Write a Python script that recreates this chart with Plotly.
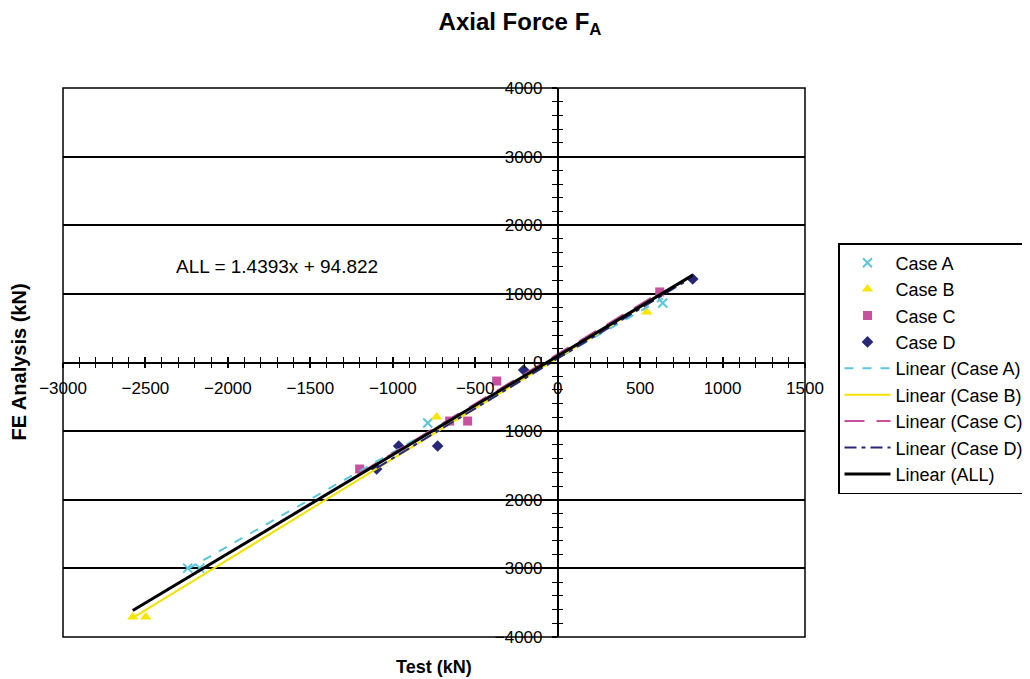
import numpy as np
import plotly.graph_objects as go

# ---- data (kN) ----
case_a_x = [-2244, -2171, -788, 637]
case_a_y = [-2996, -2996, -882, 867]
case_b_x = [-2577, -2498, -734, 540]
case_b_y = [-3710, -3710, -795, 736]
case_c_x = [-1201, -655, -546, -370, 619]
case_c_y = [-1552, -853, -853, -270, 1028]
case_d_x = [-1098, -964, -728, -206, 819]
case_d_y = [-1552, -1217, -1217, -109, 1217]

all_slope = 1.4393
all_intercept = 94.822

x_range = [-3000, 1500]
y_range = [-4000, 4000]
x_ticks = [-3000, -2500, -2000, -1500, -1000, -500, 0, 500, 1000, 1500]
y_ticks = [-4000, -3000, -2000, -1000, 0, 1000, 2000, 3000, 4000]

FONT = "Arial, Liberation Sans, sans-serif"

cases = [
    ("Case A", case_a_x, case_a_y, dict(symbol="x-thin-open", size=9, line=dict(width=2, color="#5BC6DC"), color="#5BC6DC"),
     dict(color="#5BC6DC", width=2, dash="dash")),
    ("Case B", case_b_x, case_b_y, dict(symbol="triangle-up", size=10, color="#F6E600"),
     dict(color="#F2E200", width=2, dash="solid")),
    ("Case C", case_c_x, case_c_y, dict(symbol="square", size=9, color="#C9509F"),
     dict(color="#C9509F", width=2, dash="20px,12px")),
    ("Case D", case_d_x, case_d_y, dict(symbol="diamond", size=9, color="#27287A"),
     dict(color="#27287A", width=2, dash="12px,5px,4px,5px")),
]

fig = go.Figure()

for name, xs, ys, mk, _ in cases:
    fig.add_trace(go.Scatter(x=xs, y=ys, mode="markers", name=name, marker=mk))

for name, xs, ys, _, ln in cases:
    k, b = np.polyfit(xs, ys, 1)
    xx = np.array([min(xs), max(xs)], dtype=float)
    fig.add_trace(go.Scatter(x=xx, y=k * xx + b, mode="lines", name=f"Linear ({name})", line=ln))

all_x = case_a_x + case_b_x + case_c_x + case_d_x
xx = np.array([min(all_x), max(all_x)], dtype=float)
fig.add_trace(go.Scatter(x=xx, y=all_slope * xx + all_intercept, mode="lines", name="Linear (ALL)",
                         line=dict(color="black", width=3)))

# dummy trace to carry the inner tick axes
fig.add_trace(go.Scatter(x=[], y=[], xaxis="x2", yaxis="y2", showlegend=False, hoverinfo="skip"))

ypos = (0 - x_range[0]) / (x_range[1] - x_range[0])
xpos = (0 - y_range[0]) / (y_range[1] - y_range[0])

common_x = dict(range=x_range, anchor="free", position=xpos, showgrid=False, zeroline=False,
                showline=True, linecolor="black", linewidth=1.5, tickcolor="black", tickwidth=1.5,
                ticklen=5, tickvals=x_ticks,
                minor=dict(dtick=100, ticklen=5, tickcolor="black", tickwidth=1.2))
common_y = dict(range=y_range, anchor="free", position=ypos, zeroline=False,
                showline=True, linecolor="black", linewidth=1.5, tickcolor="black", tickwidth=1.5,
                ticklen=5, tickvals=y_ticks,
                minor=dict(dtick=200, ticklen=5, tickcolor="black", tickwidth=1.2))

W, H = 1022, 671
fig.update_layout(
    width=W, height=H,
    margin=dict(l=55, r=225, t=80, b=42, autoexpand=False),
    paper_bgcolor="white", plot_bgcolor="white",
    font=dict(family=FONT, size=17, color="black"),
    title=dict(text="<b>Axial Force F<sub>A</sub></b>", x=512 / W, xref="container", y=1 - 14 / H,
               yref="container", xanchor="center", yanchor="middle", font=dict(size=24, family=FONT)),
    xaxis=dict(**common_x, ticks="outside", side="bottom", tickfont=dict(size=17), ticklabelstandoff=5),
    yaxis=dict(**common_y, ticks="outside", side="left", showgrid=True, gridcolor="black", gridwidth=1.5,
               tickfont=dict(size=17), ticklabelstandoff=6),
    xaxis2=dict(**common_x, ticks="inside", overlaying="x", side="bottom", showticklabels=False),
    yaxis2=dict(**common_y, ticks="inside", overlaying="y", side="left", showticklabels=False, showgrid=False),
    legend=dict(x=(830 - 55) / 742, y=(629 - 235) / 549, xanchor="left", yanchor="top",
                bordercolor="black", borderwidth=1.5, bgcolor="white", itemwidth=46,
                font=dict(size=18, family=FONT), tracegroupgap=0),
    showlegend=True,
)
fig.update_layout(xaxis2=dict(minor=dict(ticks="inside")), yaxis2=dict(minor=dict(ticks="inside")),
                  xaxis=dict(minor=dict(ticks="outside")), yaxis=dict(minor=dict(ticks="outside")))

fig.add_shape(type="rect", xref="paper", yref="paper", x0=0, x1=1, y0=0, y1=1,
              line=dict(color="black", width=1.5), layer="above")

fig.add_annotation(text="ALL = 1.4393x + 94.822", x=-1704, y=1392, xref="x", yref="y",
                   showarrow=False, font=dict(size=19, family=FONT))
fig.add_annotation(text="<b>Test (kN)</b>", x=0.5, y=(629 - 659) / 549, xref="paper", yref="paper",
                   showarrow=False, font=dict(size=18, family=FONT), yanchor="middle")
fig.add_annotation(text="<b>FE Analysis (kN)</b>", x=(10 - 55) / 742, y=0.5, xref="paper", yref="paper",
                   showarrow=False, textangle=-90, font=dict(size=20, family=FONT), xanchor="center")

fig.write_html("out.html")
